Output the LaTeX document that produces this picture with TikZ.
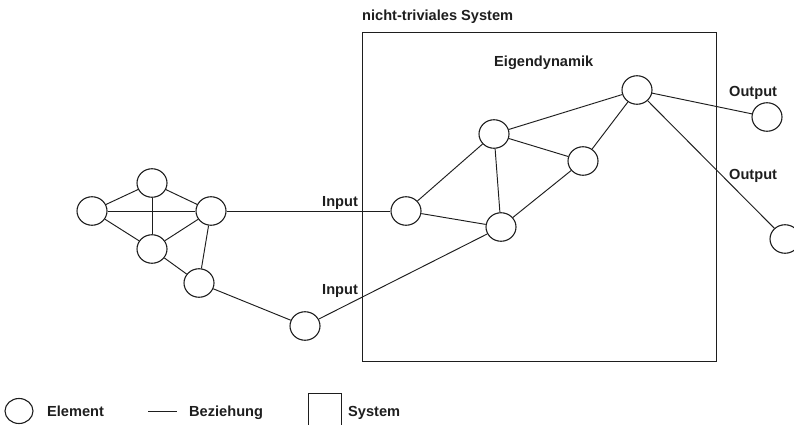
\documentclass[tikz,border=0pt]{standalone}
\usepackage{fontspec}
\setmainfont{Liberation Sans}
\usetikzlibrary{shapes.geometric}
\definecolor{ink}{HTML}{1E1E1E}
\begin{document}
\begin{tikzpicture}[x=1pt,y=-1pt,
  element/.style={draw=ink, ellipse, line width=1.1pt, minimum width=30pt,
                  minimum height=28.5pt, inner sep=0pt},
  relation/.style={draw=ink, line width=0.95pt},
  sysbox/.style={draw=ink, rectangle, line width=1.1pt, inner sep=0pt},
  lbl/.style={font=\bfseries\fontsize{14.6}{16}\selectfont, text=ink,
              inner sep=0pt, anchor=base west},
]
\useasboundingbox (0,0) rectangle (794,425);
\clip (0,0) rectangle (794,425);

% the system boundary
\node[sysbox, minimum width=354pt, minimum height=329pt, anchor=north west]
  (sys) at (362,32) {};
\node[lbl] (title) at (362,21) {nicht-triviales System};
\node[lbl] (eigen) at (494,67) {Eigendynamik};

% elements outside the system
\node[element] (a) at (92,211) {};
\node[element] (b) at (152,183) {};
\node[element] (c) at (211,211) {};
\node[element] (d) at (152,249) {};
\node[element] (e) at (199,283) {};
\node[element] (f) at (305,326) {};

% elements inside the system
\node[element] (g) at (406,211) {};
\node[element] (h) at (494,134) {};
\node[element] (i) at (637,90) {};
\node[element] (k) at (583,161) {};
\node[element] (l) at (501,227) {};

% output elements
\node[element] (j) at (767,117) {};
\node[element] (m) at (785,239) {};

% relations
\draw[relation] (a) -- (b);
\draw[relation] (a) -- (c);
\draw[relation] (a) -- (d);
\draw[relation] (b) -- (c);
\draw[relation] (b) -- (d);
\draw[relation] (c) -- (d);
\draw[relation] (c) -- (e);
\draw[relation] (d) -- (e);
\draw[relation] (e) -- (f);
\draw[relation] (c) -- (g);
\draw[relation] (f) -- (l);
\draw[relation] (g) -- (h);
\draw[relation] (g) -- (l);
\draw[relation] (h) -- (l);
\draw[relation] (h) -- (k);
\draw[relation] (l) -- (k);
\draw[relation] (h) -- (i);
\draw[relation] (k) -- (i);
\draw[relation] (i) -- (j);
\draw[relation] (i) -- (m);

% input / output labels
\node[lbl] (in1) at (322,206) {Input};
\node[lbl] (in2) at (322,294) {Input};
\node[lbl] (out1) at (729,96) {Output};
\node[lbl] (out2) at (729,179) {Output};

% legend
\node[element, minimum width=28pt, minimum height=25pt] (legel) at (19,411) {};
\node[lbl] (legeltxt) at (47,416) {Element};
\coordinate (legl1) at (148,411);
\coordinate (legl2) at (177,411);
\draw[relation] (legl1) -- (legl2);
\node[lbl] (legreltxt) at (189,416) {Beziehung};
\node[sysbox, minimum width=33pt, minimum height=33pt, anchor=north west]
  (legsys) at (308,393) {};
\node[lbl] (legsystxt) at (348,416) {System};
\end{tikzpicture}
\end{document}
